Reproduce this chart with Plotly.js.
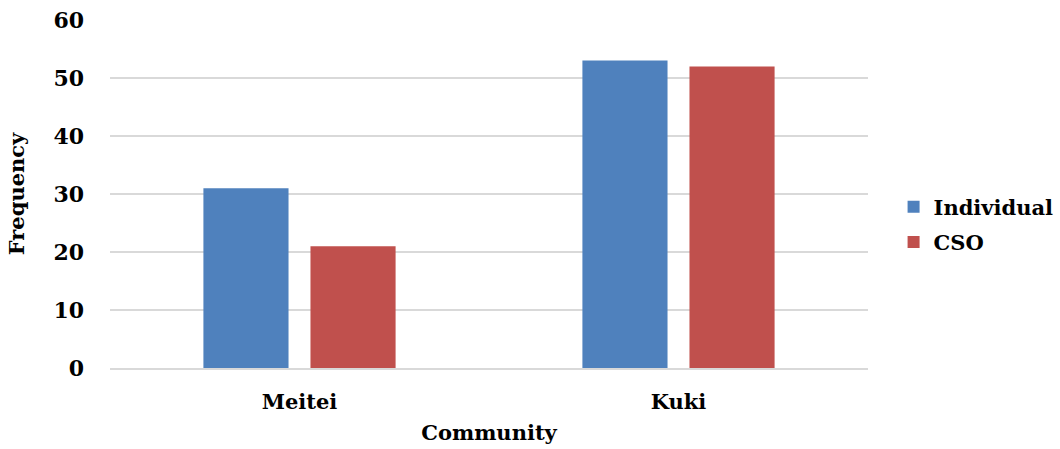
<!DOCTYPE html>
<html>
<head>
<meta charset="utf-8">
<script src="https://cdn.plot.ly/plotly-3.0.1.min.js"></script>
<style>html,body{margin:0;padding:0;background:#fff;}#chart{width:1060px;height:449px;}</style>
</head>
<body>
<div id="chart"></div>
<script>
const categories = ["Meitei", "Kuki"];
const individualValues = [31, 53];
const csoValues = [21, 52];
const seriesNames = ["Individual", "CSO"];

const fontFamily = "'DejaVu Serif', 'Liberation Serif', serif";

const data = [
  {type: "bar", name: seriesNames[0], legendgroup: "a", x: categories, y: individualValues, marker: {color: "#4F81BD"}},
  {type: "bar", name: seriesNames[1], legendgroup: "b", x: categories, y: csoValues, marker: {color: "#C0504D"}}
];

const layout = {
  width: 1060, height: 449,
  margin: {l: 110, r: 192, t: 20, b: 81},
  paper_bgcolor: "#fff", plot_bgcolor: "#fff",
  font: {family: fontFamily, color: "#000", size: 21, weight: "bold"},
  barmode: "group",
  bargap: 0.435,
  bargroupgap: 0.205,
  showlegend: true,
  legend: {xref: "container", yref: "container", x: 0.843, y: 0.5, xanchor: "left", yanchor: "middle", font: {family: fontFamily, size: 21, weight: "bold"}, traceorder: "grouped", tracegroupgap: 5, itemwidth: 30},
  xaxis: {
    showgrid: false, showline: true, linecolor: "#D9D9D9", linewidth: 1.5,
    tickfont: {family: fontFamily, size: 21, weight: "bold"},
    ticks: "", ticklabelstandoff: 14,
    title: {text: "Community", font: {family: fontFamily, size: 21, weight: "bold"}, standoff: 12}
  },
  yaxis: {
    range: [0, 60], dtick: 10, showgrid: true, gridcolor: "#D9D9D9", gridwidth: 1.5,
    zeroline: false, showline: false, ticks: "", ticklen: 0,
    ticklabelstandoff: 25,
    tickfont: {family: fontFamily, size: 22, weight: "bold"},
    title: {text: "Frequency", font: {family: fontFamily, size: 21, weight: "bold"}, standoff: 23}
  }
};

Plotly.newPlot("chart", data, layout, {displayModeBar: false, staticPlot: true});
</script>
</body>
</html>
